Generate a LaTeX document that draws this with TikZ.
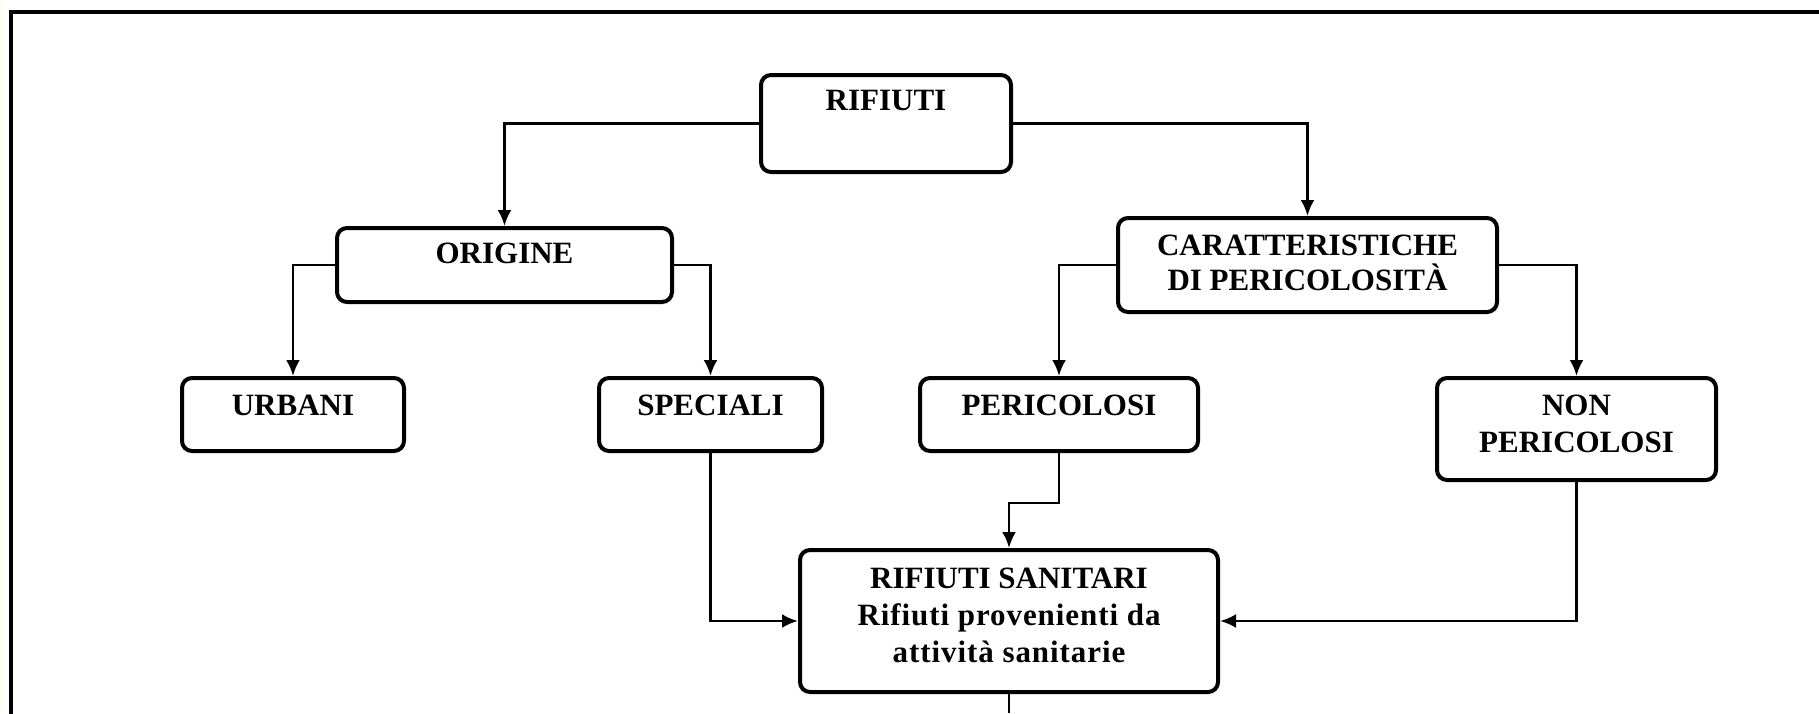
\documentclass[tikz,border=0pt]{standalone}
\usepackage{fontspec}
\setmainfont{Liberation Serif}
\usetikzlibrary{arrows.meta}
\begin{document}
\begin{tikzpicture}[x=0.5pt,y=-0.5pt,
  box/.style={draw, line width=2pt, rounded corners=5pt, inner sep=0pt},
  sz/.style 2 args={minimum width=#1*0.5pt, minimum height=#2*0.5pt},
  lbl/.style={font=\fontsize{15.5}{18.5}\selectfont\bfseries, align=center, inner sep=0pt, anchor=north},
  conn/.style={line width=1.4pt, -{Latex[length=8pt,width=7pt]}},
  plain/.style={line width=1.4pt}]
\useasboundingbox (0,0) rectangle (1819,713);
\fill[yellow!8] (0,0) rectangle (2,713);
\draw[line width=2.3pt] (1825,12) -- (11,12) -- (11,720);
% boxes
\node[box, sz={250}{97}]  (rif) at (886,123.5) {};
\node[box, sz={335}{74}]  (ori) at (504.5,265) {};
\node[box, sz={222}{73}]  (urb) at (293,414.5) {};
\node[box, sz={223}{73}]  (spe) at (710.5,414.5) {};
\node[box, sz={379}{94}]  (car) at (1307.5,265) {};
\node[box, sz={278}{73}]  (per) at (1059,414.5) {};
\node[box, sz={279}{102}] (non) at (1576.5,429) {};
\node[box, sz={418}{142}] (san) at (1009,621) {};
% texts
\node[lbl] (trif) at (886,90) {RIFIUTI};
\node[lbl] (tori) at (504.5,243) {ORIGINE};
\node[lbl] (turb) at (293,395) {URBANI};
\node[lbl] (tspe) at (710.5,395) {SPECIALI};
\node[lbl] (tcar) at (1307.5,235) {CARATTERISTICHE\\[-1pt]DI PERICOLOSITÀ};
\node[lbl] (tper) at (1059,395) {PERICOLOSI};
\node[lbl] (tnon) at (1576.5,395) {NON\\PERICOLOSI};
\node[lbl] (tsan) at (1009,568) {RIFIUTI SANITARI\\{\addfontfeature{LetterSpace=3}Rifiuti provenienti da}\\{\addfontfeature{LetterSpace=3}attività sanitarie}};
% connectors
\draw[conn] (rif.west) -| (ori.north);
\draw[conn] (rif.east) -| (car.north);
\draw[conn] (ori.west) -| (urb.north);
\draw[conn] (ori.east) -| (spe.north);
\draw[conn] (car.west) -| (per.north);
\draw[conn] (car.east) -| (non.north);
\draw[conn] (per.south) -- ++(0,50) -| (san.north);
\draw[conn] (spe.south) |- (san.west);
\draw[conn] (non.south) |- (san.east);
\coordinate (bot) at (1009,713);
\draw[plain] (san.south) -- (bot);
\end{tikzpicture}
\end{document}
